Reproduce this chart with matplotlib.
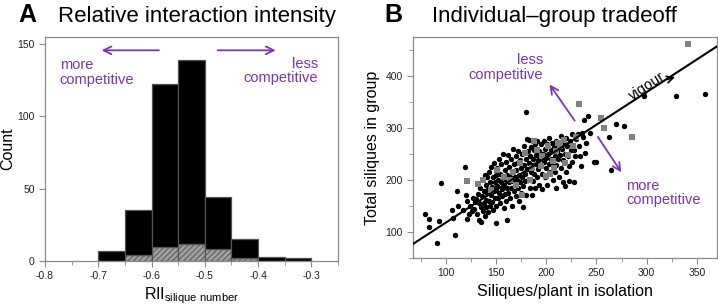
import matplotlib
matplotlib.use("Agg")
import matplotlib.pyplot as plt
from matplotlib.ticker import MultipleLocator
import numpy as np

plt.rcParams['font.family'] = ['Liberation Sans', 'DejaVu Sans']
plt.rcParams['mathtext.fontset'] = 'custom'
plt.rcParams['mathtext.rm'] = 'Liberation Sans'
plt.rcParams['mathtext.it'] = 'Liberation Sans:italic'
plt.rcParams['hatch.linewidth'] = 0.7

PURPLE = '#7a35b5'

# ---------------- Panel A data ----------------
bin_left = [-0.70, -0.65, -0.60, -0.55, -0.50, -0.45, -0.40, -0.35]
total_counts = [7, 35, 122, 139, 44, 15, 3, 2]
grey_counts = [0, 4, 10, 12, 8, 2, 0, 0]
a_xticks = [-0.8, -0.7, -0.6, -0.5, -0.4, -0.3]
a_yticks = [0, 50, 100, 150]

# ---------------- Panel B data ----------------
black_x = [79, 83, 83, 91, 93, 95, 106, 107, 109, 111, 112, 117, 119, 121, 121, 123, 124, 120,
           126, 127, 128, 129, 130, 131, 132, 133, 133, 134, 135, 135, 136, 137, 137, 138, 138, 139, 139, 140, 140, 140,
           141, 141, 142, 142, 143, 143, 144, 144, 145, 145, 146, 146, 147, 147, 148, 148, 149, 149, 150, 150, 150, 150,
           151, 151, 152, 152, 153, 153, 154, 154, 155, 155, 156, 156, 157, 157, 158, 158, 159, 159, 160, 160, 160,
           161, 161, 161, 162, 162, 163, 163, 164, 164, 165, 165, 166, 166, 167, 167, 168, 168, 169, 169, 170, 170, 170,
           171, 171, 172, 172, 173, 173, 174, 174, 175, 175, 176, 176, 177, 177, 178, 178, 179, 179, 180, 180, 180, 181, 181,
           182, 182, 183, 183, 184, 184, 185, 185, 186, 186, 187, 187, 188, 188, 189, 189, 190, 190,
           191, 191, 192, 192, 193, 193, 194, 195, 195, 196, 196, 197, 198, 198, 199, 199, 200, 200,
           201, 201, 202, 203, 203, 204, 205, 205, 206, 207, 207, 208, 209, 209, 210, 210, 210,
           211, 212, 213, 213, 214, 215, 215, 216, 217, 217, 218, 219, 220, 220, 219,
           221, 222, 223, 223, 224, 225, 226, 226, 227, 228, 228, 229, 230,
           232, 233, 234, 235, 236, 237, 238, 239, 240, 242, 244, 248, 250,
           263, 265, 270, 277, 297, 329, 358]
black_y = [135, 124, 109, 78, 121, 193, 142, 127, 95, 179, 149, 143, 225, 124, 160, 134, 150, 170,
           140, 165, 144, 158, 163, 135, 172, 156, 122, 185, 120, 148, 168, 201, 140, 178, 155, 210, 130, 190, 162, 147,
           175, 205, 138, 183, 160, 215, 196, 150, 170, 225, 187, 158, 205, 142, 178, 232, 165, 195, 117, 210, 180, 150,
           222, 188, 165, 200, 240, 175, 155, 212, 195, 230, 182, 168, 205, 250, 190, 145, 218, 172, 200, 235, 160,
           122, 185, 210, 248, 175, 196, 225, 165, 205, 240, 185, 215, 150, 198, 260, 178, 230, 205, 190, 245, 168, 218,
           200, 232, 185, 255, 210, 160, 238, 195, 222, 175, 250, 205, 147, 188, 228, 265, 212, 198, 240, 170, 330, 278, 220,
           255, 200, 276, 232, 185, 245, 215, 262, 170, 228, 240, 198, 258, 212, 268, 185, 230, 248,
           205, 275, 238, 220, 255, 190, 245, 228, 268, 212, 182, 250, 235, 275, 260, 205, 242, 222,
           190, 268, 250, 230, 280, 215, 258, 240, 270, 200, 232, 262, 245, 215, 275, 228, 185,
           255, 240, 268, 205, 248, 222, 285, 260, 238, 195, 272, 250, 215, 280, 188,
           265, 245, 197, 226, 275, 258, 235, 288, 265, 258, 196, 245, 278,
           288, 265, 245, 226, 290, 282, 314, 252, 270, 323, 290, 235, 234,
           282, 218, 308, 304, 360, 361, 364]
grey_x = [341, 233, 255, 258, 285, 121, 188, 191, 176, 195, 200, 204, 207, 210, 218, 219, 227, 214,
          137, 132, 151, 164, 174, 179, 230, 202, 186, 170, 158, 145, 196, 222, 208, 184, 167, 212]
grey_y = [460, 345, 318, 300, 282, 197, 275, 257, 170, 226, 208, 212, 236, 255, 277, 232, 264, 264,
          200, 192, 218, 200, 232, 252, 283, 264, 222, 190, 205, 180, 245, 248, 222, 200, 215, 270]
fit_slope = 1.253
fit_intercept = -7.6
b_xticks = [100, 150, 200, 250, 300, 350]
b_yticks = [100, 200, 300, 400]

fig = plt.figure(figsize=(7.18, 3.05), dpi=100)
axA = fig.add_axes([0.0627, 0.1443, 0.4081, 0.7344])
axB = fig.add_axes([0.5752, 0.1541, 0.4234, 0.7246])

SPINE = '#8a8a8a'
for ax in (axA, axB):
    for s in ax.spines.values():
        s.set_color(SPINE)
        s.set_linewidth(0.9)
    ax.tick_params(which='both', direction='out', color=SPINE, labelsize=7.5, labelcolor='#222222')
    ax.tick_params(which='major', length=4)
    ax.tick_params(which='minor', length=3)

# ---- Panel A ----
width = 0.05
axA.bar(bin_left, grey_counts, width=width, align='edge', facecolor='#a0a0a0',
        edgecolor='#555555', hatch='//////', linewidth=0.9, zorder=2)
black_part = [t - g for t, g in zip(total_counts, grey_counts)]
axA.bar(bin_left, black_part, bottom=grey_counts, width=width, align='edge',
        facecolor='black', edgecolor='#555555', linewidth=0.9, zorder=2)
axA.set_xlim(-0.8, -0.25)
axA.set_ylim(0, 154.6)
axA.set_xticks(a_xticks)
axA.set_xticklabels(['%g' % v for v in a_xticks])
axA.xaxis.set_minor_locator(MultipleLocator(0.05))
axA.set_yticks(a_yticks)
axA.set_ylabel('Count', fontsize=11.5)
axA.yaxis.set_label_coords(-0.1, 0.5)
axA.set_xlabel(r'RII$_{\rm silique\ number}$', fontsize=11.5, labelpad=3)

axA.annotate('', xy=(-0.699, 145.4), xytext=(-0.581, 145.4),
             arrowprops=dict(arrowstyle='->', color=PURPLE, lw=1.3, mutation_scale=14))
axA.annotate('', xy=(-0.362, 145.4), xytext=(-0.481, 145.4),
             arrowprops=dict(arrowstyle='->', color=PURPLE, lw=1.3, mutation_scale=14))
axA.text(-0.7725, 130, 'more\ncompetitive', color=PURPLE, fontsize=10.5,
         ha='left', va='center', linespacing=1.05)
axA.text(-0.287, 131, 'less\ncompetitive', color=PURPLE, fontsize=10.5,
         ha='right', va='center', linespacing=1.05, multialignment='right')

# ---- Panel B ----
axB.scatter(black_x, black_y, s=15, color='black', linewidths=0, zorder=3)
axB.scatter(grey_x, grey_y, s=22, marker='s', color='#808080', linewidths=0, zorder=4)
xl = np.array([67.5, 370])
axB.plot(xl, fit_slope * xl + fit_intercept, color='black', lw=1.5, zorder=5)
axB.set_xlim(67.5, 370)
axB.set_ylim(50, 474)
axB.set_xticks(b_xticks)
axB.set_yticks(b_yticks)
axB.xaxis.set_minor_locator(MultipleLocator(25))
axB.yaxis.set_minor_locator(MultipleLocator(50))
axB.set_xlabel('Siliques/plant in isolation', fontsize=11.5, labelpad=4)
axB.set_ylabel('Total siliques in group', fontsize=11.5, labelpad=4)

axB.annotate('', xy=(201.8, 387.3), xytext=(230, 309),
             arrowprops=dict(arrowstyle='->', color=PURPLE, lw=1.3, mutation_scale=14))
axB.annotate('', xy=(276.4, 210), xytext=(249.9, 286.8),
             arrowprops=dict(arrowstyle='->', color=PURPLE, lw=1.3, mutation_scale=14))
axB.text(197, 416, 'less\ncompetitive', color=PURPLE, fontsize=10.5,
         ha='right', va='center', linespacing=1.05, multialignment='right')
axB.text(279.7, 175, 'more\ncompetitive', color=PURPLE, fontsize=10.5,
         ha='left', va='center', linespacing=1.05)
axB.text(300, 379, 'vigour', fontsize=10.5, rotation=33, ha='center', va='center',
         rotation_mode='anchor')
axB.annotate('', xy=(331, 399), xytext=(318, 391),
             arrowprops=dict(arrowstyle='->', color='black', lw=1.2, mutation_scale=12))

# ---- Titles ----
fig.text(0.025, 0.929, 'A', fontsize=18, fontweight='heavy', va='baseline', ha='left')
fig.text(0.0808, 0.929, 'Relative interaction intensity', fontsize=16, va='baseline', ha='left')
fig.text(0.536, 0.929, 'B', fontsize=18, fontweight='heavy', va='baseline', ha='left')
fig.text(0.601, 0.929, 'Individual\u2013group tradeoff', fontsize=16, va='baseline', ha='left')

fig.savefig('out.png', dpi=100)
